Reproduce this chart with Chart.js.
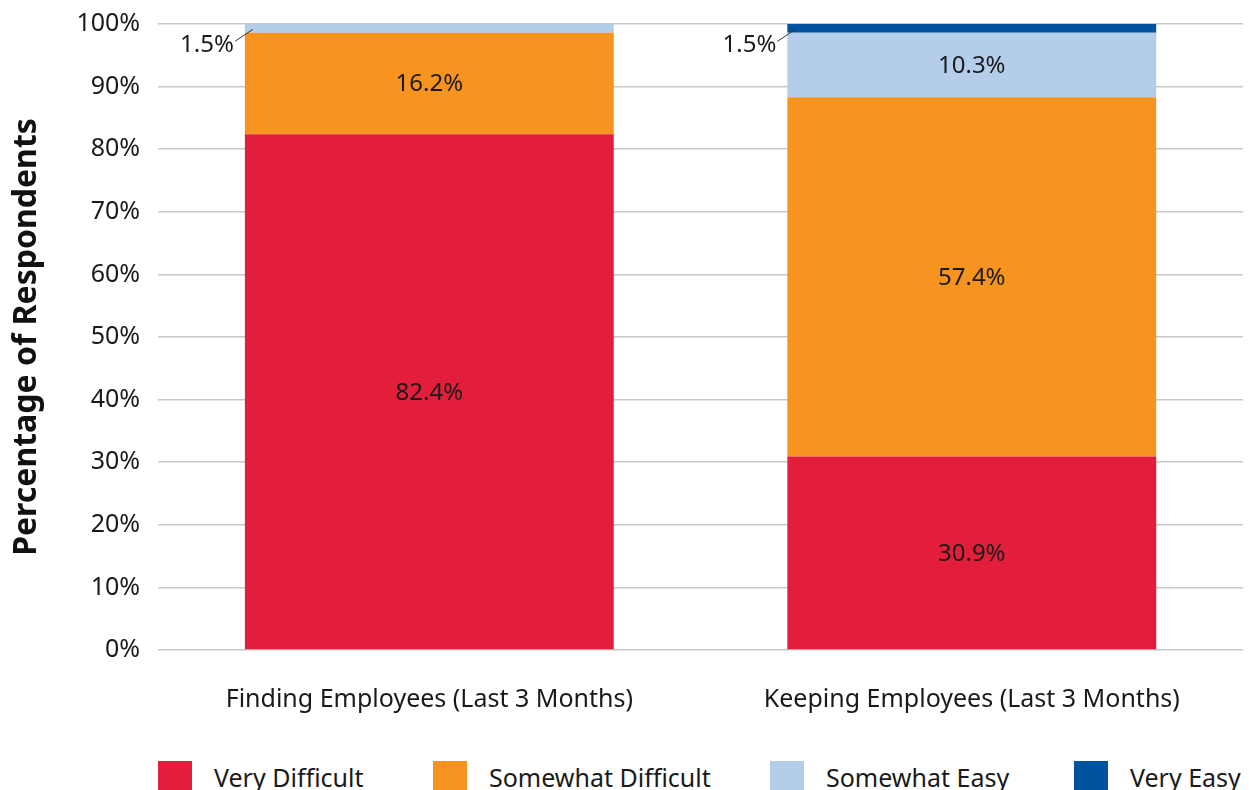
<!DOCTYPE html>
<html>
<head>
<meta charset="utf-8">
<script src="https://cdn.jsdelivr.net/npm/chart.js@4.4.1/dist/chart.umd.min.js"></script>
<style>
    body { margin: 0; background: #fff; overflow: hidden; font-family: "Noto Sans", sans-serif; }
    #wrap { position: relative; width: 1249px; height: 751px; margin-top: -9px; }
    #legend { position: absolute; left: 158px; top: 761px; display: flex; align-items: flex-start; white-space: nowrap; }
    .item { display: flex; align-items: flex-start; flex: none; }
    .swatch { width: 34px; height: 30px; margin-right: 22px; }
    .item span { font-size: 25px; line-height: 30px; color: #1a1a1a; margin-top: 1px; }
</style>
</head>
<body>
<div id="wrap"><canvas id="chart"></canvas></div>
<div id="legend"></div>

<script>
// Data
categories = ["Finding Employees (Last 3 Months)", "Keeping Employees (Last 3 Months)"];
series_names = ["Very Difficult", "Somewhat Difficult", "Somewhat Easy", "Very Easy"];
very_difficult = [82.4, 30.9];
somewhat_difficult = [16.2, 57.4];
somewhat_easy = [1.5, 10.3];
very_easy = [0, 1.5];
y_ticks = [0, 10, 20, 30, 40, 50, 60, 70, 80, 90, 100];

colors = ["#E31E3B", "#F7941F", "#B4CDEB", "#00539F"];
series_values = [very_difficult, somewhat_difficult, somewhat_easy, very_easy];
legend_widths = [275, 337, 304, 175];

// Draws the value of each segment, small ones go left of the bar with a leader line
const segmentLabels = {
    id: 'segmentLabels',
    afterDatasetsDraw(chart) {
        const ctx = chart.ctx;
        ctx.save();
        ctx.font = '24px "Noto Sans"';
        ctx.fillStyle = '#1a1a1a';
        ctx.strokeStyle = '#333';
        ctx.lineWidth = 1;
        ctx.textBaseline = 'middle';
        chart.data.datasets.forEach((ds, i) => {
            const meta = chart.getDatasetMeta(i);
            meta.data.forEach((bar, j) => {
                const v = ds.data[j];
                if (!v) return;
                const top = Math.max(bar.y, chart.chartArea.top);
                const mid = (top + bar.base) / 2;
                const text = v.toFixed(1) + '%';
                if (v < 5) {
                    const left = bar.x - bar.width / 2;
                    ctx.textAlign = 'right';
                    ctx.fillText(text, left - 11, mid + 17);
                    ctx.beginPath();
                    ctx.moveTo(left - 10, mid + 13);
                    ctx.lineTo(left + 8, mid + 1);
                    ctx.stroke();
                } else {
                    ctx.textAlign = 'center';
                    ctx.fillText(text, bar.x, mid + 1);
                }
            });
        });
        ctx.restore();
    }
};

datasets = [];
for (let i = 0; i < series_names.length; i++) {
    datasets.push({
        label: series_names[i],
        data: series_values[i],
        backgroundColor: colors[i],
        borderWidth: 0,
        barPercentage: 0.68,
        categoryPercentage: 1.0
    });
}

new Chart(document.getElementById('chart'), {
    type: 'bar',
    data: {
        labels: categories,
        datasets: datasets
    },
    plugins: [segmentLabels],
    options: {
        responsive: true,
        maintainAspectRatio: false,
        animation: false,
        layout: { padding: { top: 4, right: 6, left: 0, bottom: 0 } },
        plugins: {
            legend: { display: false },
            tooltip: { enabled: false }
        },
        scales: {
            x: {
                stacked: true,
                grid: { display: false },
                border: { display: false },
                ticks: {
                    color: '#1a1a1a',
                    font: { family: 'Noto Sans', size: 25 },
                    padding: 27
                }
            },
            y: {
                stacked: true,
                min: 0,
                max: 100,
                afterBuildTicks: (axis) => { axis.ticks = y_ticks.map(v => ({ value: v })); },
                grid: { color: '#c8c8c8', lineWidth: 1.5, drawTicks: false },
                border: { display: false },
                ticks: {
                    color: '#1a1a1a',
                    font: { family: 'Noto Sans', size: 25 },
                    padding: 18,
                    callback: (v) => v + '%'
                },
                title: {
                    display: true,
                    text: 'Percentage of Respondents',
                    color: '#111',
                    font: { family: 'Noto Sans', size: 32, weight: 'bold' },
                    padding: { top: 8, bottom: 12 }
                }
            }
        }
    }
});

// Legend built as plain html under the canvas
legend = document.getElementById('legend');
for (let i = 0; i < series_names.length; i++) {
    const item = document.createElement('div');
    item.className = 'item';
    item.style.width = legend_widths[i] + 'px';
    item.innerHTML = `<div class="swatch" style="background:${colors[i]}"></div><span>${series_names[i]}</span>`;
    legend.append(item);
}
</script>
</body>
</html>
